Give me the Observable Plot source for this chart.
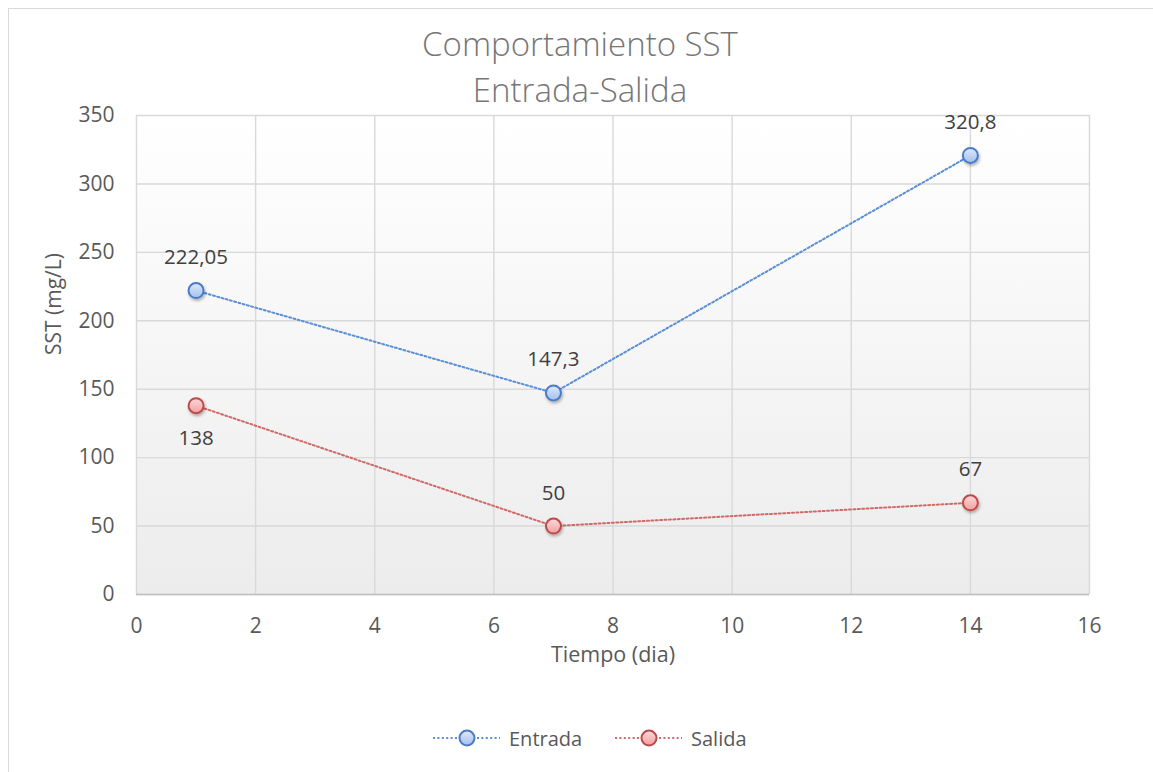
<!DOCTYPE html>
<html>
<head>
<meta charset="utf-8">
<script src="https://cdn.jsdelivr.net/npm/d3@7"></script>
<script src="https://cdn.jsdelivr.net/npm/@observablehq/plot@0.6"></script>
<style>
  html, body { margin: 0; padding: 0; background: #fff; overflow: hidden; }
  #wrap { position: relative; width: 1153px; height: 772px; overflow: hidden; font-family: "Open Sans", sans-serif; color: #595959; }
  #frame { position: absolute; left: 8px; top: 8px; width: 1300px; height: 900px; border: 1.5px solid #d9d9d9; box-sizing: border-box; }
  #title { position: absolute; left: 280px; top: 21px; width: 600px; text-align: center; font-size: 33px; line-height: 46px; color: #767676; font-weight: 300; }
  #chart { position: absolute; left: 0; top: 0; }
  .legend-item { position: absolute; top: 726px; height: 24px; display: flex; align-items: center; font-size: 20px; color: #595959; }
  .legend-item svg { overflow: visible; margin-right: 9px; }
</style>
</head>
<body>
<div id="wrap">
  <div id="frame"></div>
  <div id="chart"></div>
  <div id="title">Comportamiento SST<br>Entrada-Salida</div>
  <div id="legend"></div>
</div>
<script>
// Sampling days and measured SST concentrations (mg/L)
const days = [1, 7, 14];
const entrada = [222.05, 147.3, 320.8];
const salida = [138, 50, 67];
const seriesNames = ["Entrada", "Salida"];
const xTicks = [0, 2, 4, 6, 8, 10, 12, 14, 16];
const yTicks = [0, 50, 100, 150, 200, 250, 300, 350];

const rows = [
  ...days.map((d, i) => ({day: d, value: entrada[i], series: "Entrada"})),
  ...days.map((d, i) => ({day: d, value: salida[i], series: "Salida"}))
];

const lineColor = {Entrada: "#5b8fd6", Salida: "#d06a6a"};
const dotStroke = {Entrada: "#4a7bc8", Salida: "#bd4a48"};
const fillTop = {Entrada: "#dfe9fc", Salida: "#ffd8d8"};
const fillBottom = {Entrada: "#a3bfef", Salida: "#f2a0a0"};
const dotFill = {Entrada: "url(#gEntrada)", Salida: "url(#gSalida)"};
const fmt = v => String(v).replace(".", ",");

const W = 1153, H = 772;
const chart = Plot.plot({
  width: W,
  height: H,
  marginLeft: 136,
  marginRight: 64,
  marginTop: 115,
  marginBottom: 178,
  x: {domain: [0, 16]},
  y: {domain: [0, 350]},
  style: {fontFamily: "Open Sans, sans-serif", fontSize: "21px", color: "#595959", background: "transparent", overflow: "visible"},
  marks: [
    Plot.frame({fill: "url(#plotBg)", stroke: "none"}),
    Plot.gridX(xTicks, {stroke: "#d9d9d9", strokeOpacity: 1, strokeWidth: 1.4}),
    Plot.gridY(yTicks, {stroke: "#d9d9d9", strokeOpacity: 1, strokeWidth: 1.4}),
    Plot.ruleY([0], {stroke: "#bfbfbf", strokeWidth: 1.5}),
    Plot.axisX(xTicks, {tickSize: 0, tickPadding: 24, label: null, fill: "#595959", fontSize: 21}),
    Plot.axisY(yTicks, {tickSize: 0, tickPadding: 22, label: null, fill: "#595959", fontSize: 21}),
    Plot.line(rows, {x: "day", y: "value", z: "series", stroke: d => lineColor[d.series], strokeWidth: 2, strokeDasharray: "2,2.4"}),
    Plot.dot(rows, {x: "day", y: "value", r: 7.5, fill: d => dotFill[d.series], stroke: d => dotStroke[d.series], strokeWidth: 2}),
    // value labels: above the point except the first Salida point, which sits below
    Plot.text(rows, {filter: d => !(d.series === "Salida" && d.day === days[0]), x: "day", y: "value", text: d => fmt(d.value), dy: -33, fill: "#404040", fontSize: 20.5}),
    Plot.text(rows, {filter: d => d.series === "Salida" && d.day === days[0], x: "day", y: "value", text: d => fmt(d.value), dy: 33, fill: "#404040", fontSize: 20.5}),
    Plot.text(["Tiempo (dia)"], {frameAnchor: "bottom", dy: 67, fill: "#595959", fontSize: 21.5, text: d => d}),
    Plot.text(["SST (mg/L)"], {frameAnchor: "left", dx: -82, rotate: -90, fill: "#595959", fontSize: 21, text: d => d})
  ]
});

// gradients and marker shadow
const svg = d3.select(chart);
const defs = svg.insert("defs", ":first-child");
const bg = defs.append("linearGradient").attr("id", "plotBg").attr("x1", 0).attr("y1", 0).attr("x2", 0).attr("y2", 1);
bg.append("stop").attr("offset", "0%").attr("stop-color", "#ffffff");
bg.append("stop").attr("offset", "100%").attr("stop-color", "#ececec");
seriesNames.forEach(name => {
  const g = defs.append("linearGradient").attr("id", "g" + name).attr("x1", 0).attr("y1", 0).attr("x2", 0).attr("y2", 1);
  g.append("stop").attr("offset", "0%").attr("stop-color", fillTop[name]);
  g.append("stop").attr("offset", "100%").attr("stop-color", fillBottom[name]);
});
const sh = defs.append("filter").attr("id", "shadow").attr("x", "-50%").attr("y", "-50%").attr("width", "200%").attr("height", "200%");
sh.append("feDropShadow").attr("dx", 1).attr("dy", 2).attr("stdDeviation", 1.6).attr("flood-color", "#000").attr("flood-opacity", 0.3);
svg.selectAll("g[aria-label='dot'] circle").attr("filter", "url(#shadow)");

document.getElementById("chart").appendChild(chart);

// legend: dotted line segment with a marker, then the series name
const legendLeft = {Entrada: 433, Salida: 615};
const legend = d3.select("#legend");
seriesNames.forEach(name => {
  const item = legend.append("div").attr("class", "legend-item").style("left", legendLeft[name] + "px");
  const s = item.append("svg").attr("width", 67).attr("height", 24);
  const g = s.append("defs").append("linearGradient").attr("id", "lg" + name).attr("x1", 0).attr("y1", 0).attr("x2", 0).attr("y2", 1);
  g.append("stop").attr("offset", "0%").attr("stop-color", fillTop[name]);
  g.append("stop").attr("offset", "100%").attr("stop-color", fillBottom[name]);
  s.append("line").attr("x1", 0).attr("x2", 67).attr("y1", 12).attr("y2", 12)
    .attr("stroke", lineColor[name]).attr("stroke-width", 2).attr("stroke-dasharray", "2,2.4");
  s.append("circle").attr("cx", 34).attr("cy", 12).attr("r", 7.5)
    .attr("fill", `url(#lg${name})`).attr("stroke", dotStroke[name]).attr("stroke-width", 2);
  item.append("span").text(name);
});
</script>
</body>
</html>
